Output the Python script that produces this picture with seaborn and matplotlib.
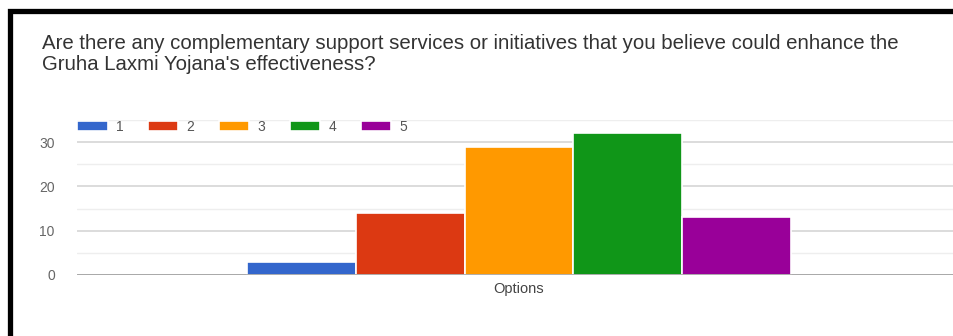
import matplotlib
matplotlib.use("Agg")
import matplotlib.pyplot as plt
import matplotlib.patches as mpatches
import seaborn as sns
import pandas as pd

# Survey response counts per rating
ratings = ["1", "2", "3", "4", "5"]
counts = [3, 14, 29, 32, 13]
category = "Options"
colors = ["#3366cc", "#dc3912", "#ff9900", "#109618", "#990099"]
title = ("Are there any complementary support services or initiatives that you believe could enhance the\n"
         "Gruha Laxmi Yojana's effectiveness?")
yticks = [0, 10, 20, 30]

sns.set_theme(style="white")
plt.rcParams["font.family"] = ["Liberation Sans", "DejaVu Sans"]

W, H = 954, 336
fig = plt.figure(figsize=(W / 100, H / 100), dpi=100)
fig.patch.set_facecolor("white")

ax_left, ax_right = 77, 961
y0_px, ytop_px = 275, 120
ax = fig.add_axes([ax_left / W, (H - y0_px) / H, (ax_right - ax_left) / W, (y0_px - ytop_px) / H])

df = pd.DataFrame({"Options": [category] * len(ratings), "Rating": ratings, "Count": counts})
sns.barplot(data=df, x="Options", y="Count", hue="Rating", hue_order=ratings,
            palette=colors, saturation=1, edgecolor="white", linewidth=1.2,
            width=0.8, ax=ax)

ax.set_xlim(-0.65, 0.65)
ax.set_ylim(0, 35)
ax.set_yticks(yticks)
ax.set_yticks([5, 15, 25, 35], minor=True)
ax.grid(axis="y", which="major", color="#d6d6d6", linewidth=1.2, zorder=0)
ax.grid(axis="y", which="minor", color="#eeeeee", linewidth=1.0, zorder=0)
ax.set_axisbelow(True)
for s in ax.spines.values():
    s.set_visible(False)
ax.axhline(0, color="#9a9a9a", linewidth=1.8, zorder=3)
ax.tick_params(axis="y", which="both", length=0, pad=16, labelsize=10, labelcolor="#666666")
ax.tick_params(axis="x", length=0, pad=5, labelsize=10.5, labelcolor="#444444")
ax.set_xlabel("")
ax.set_ylabel("")

handles, labels = ax.get_legend_handles_labels()
ax.get_legend().remove()
leg = fig.legend(handles, labels, loc="center left",
                 bbox_to_anchor=(ax_left / W, (H - 127) / H), ncol=5,
                 frameon=False, fontsize=10, handlelength=2.2, handleheight=0.65,
                 handletextpad=0.6, columnspacing=1.75, borderpad=0, borderaxespad=0)
for t in leg.get_texts():
    t.set_color("#555555")

fig.text(42 / W, (H - 34) / H, title, ha="left", va="top", fontsize=14.7,
         color="#333333", linespacing=1.12)

# Black frame on the left and top
fig.add_artist(mpatches.Rectangle((10.5 / W, -0.2), 1.2, (H - 10.5) / H + 0.2,
                                  transform=fig.transFigure, fill=False,
                                  edgecolor="black", linewidth=3.8, zorder=10))

fig.savefig("out.png", dpi=100, facecolor="white")
